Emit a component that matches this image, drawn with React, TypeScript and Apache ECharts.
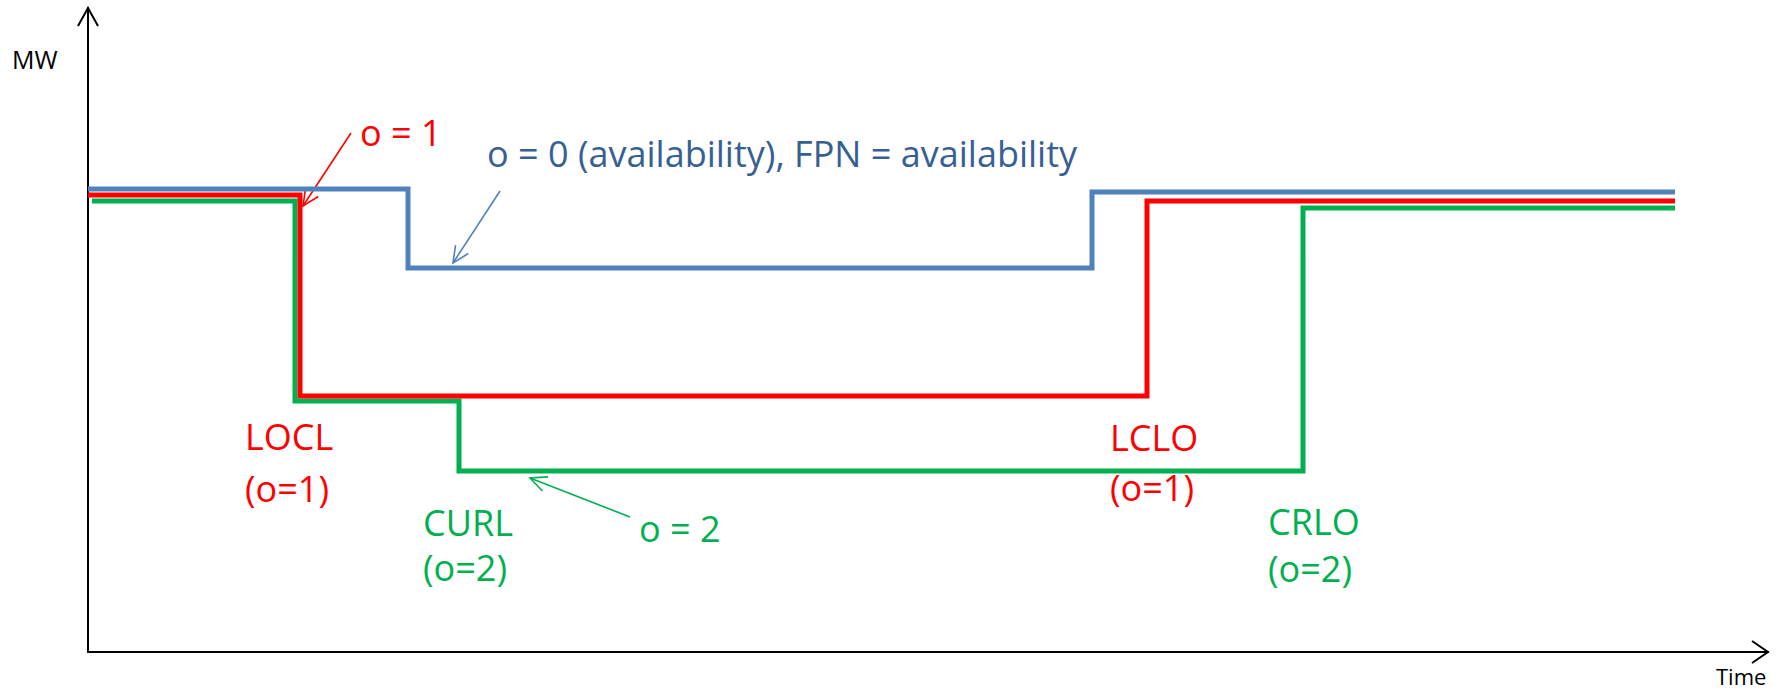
import React, { useEffect, useRef } from "react";
import * as echarts from "echarts";

// Time axis (arbitrary units) and MW values
const timeBlue = [0, 32, 32, 100.4, 100.4, 158.7];
const mwBlue = [46.3, 46.3, 38.4, 38.4, 46.0, 46.0];

const timeRed = [0, 21.2, 21.2, 105.9, 105.9, 158.7];
const mwRed = [45.7, 45.7, 25.6, 25.6, 45.1, 45.1];

const timeGreen = [0.4, 20.7, 20.7, 37.1, 37.1, 121.5, 121.5, 158.7];
const mwGreen = [45.1, 45.1, 25.1, 25.1, 18.1, 18.1, 44.4, 44.4];

const xMax = 168;
const yMax = 64.4;

const BLUE = "#4F81BD";
const RED = "#FF0000";
const GREEN = "#00B050";
const BLUE_TEXT = "#376092";
const FONT = '"Open Sans", sans-serif';

const zip = (xs: number[], ys: number[]) => xs.map((x, i) => [x, ys[i]]);

function arrow(x1: number, y1: number, x2: number, y2: number, color: string) {
  const dx = x1 - x2;
  const dy = y1 - y2;
  const len = Math.hypot(dx, dy);
  const ux = dx / len;
  const uy = dy / len;
  const L = 18;
  const a = (25 * Math.PI) / 180;
  const c = Math.cos(a);
  const s = Math.sin(a);
  const w1 = [x2 + L * (ux * c - uy * s), y2 + L * (ux * s + uy * c)];
  const w2 = [x2 + L * (ux * c + uy * s), y2 + L * (-ux * s + uy * c)];
  return [
    { type: "line", shape: { x1, y1, x2, y2 }, style: { stroke: color, lineWidth: 1.6 }, silent: true },
    { type: "polyline", shape: { points: [w1, [x2, y2], w2] }, style: { stroke: color, lineWidth: 1.6, fill: null }, silent: true },
  ];
}

function label(text: string, x: number, y: number, color: string, size = 36) {
  return {
    type: "text",
    silent: true,
    style: {
      text,
      x,
      y,
      fill: color,
      fontSize: size,
      fontFamily: FONT,
      textAlign: "left",
      textVerticalAlign: "middle",
      align: "left",
      verticalAlign: "middle",
    },
  };
}

export default function App() {
  const ref = useRef<HTMLDivElement>(null);
  useEffect(() => {
    if (!ref.current) return;
    const chart = echarts.init(ref.current, undefined, { renderer: "svg" });
    const lineSeries = (name: string, data: number[][], color: string) => ({
      name,
      type: "line",
      data,
      showSymbol: false,
      symbol: "none",
      lineStyle: { color, width: 5, cap: "butt", join: "miter" },
      itemStyle: { color },
      silent: true,
    });
    chart.setOption({
      animation: false,
      backgroundColor: "#ffffff",
      grid: { left: 88, top: 8, right: 18, bottom: 40, containLabel: false },
      xAxis: {
        type: "value",
        min: 0,
        max: xMax,
        axisLine: { show: true, onZero: false, lineStyle: { color: "#000", width: 2 } },
        axisTick: { show: false },
        axisLabel: { show: false },
        splitLine: { show: false },
      },
      yAxis: {
        type: "value",
        min: 0,
        max: yMax,
        axisLine: { show: true, onZero: false, lineStyle: { color: "#000", width: 2 } },
        axisTick: { show: false },
        axisLabel: { show: false },
        splitLine: { show: false },
      },
      series: [
        lineSeries("o = 0 (availability)", zip(timeBlue, mwBlue), BLUE),
        lineSeries("o = 2", zip(timeGreen, mwGreen), GREEN),
        lineSeries("o = 1", zip(timeRed, mwRed), RED),
      ],
      graphic: [
        { type: "polyline", shape: { points: [[78, 26], [88, 8], [98, 26]] }, style: { stroke: "#000", lineWidth: 2, fill: null }, silent: true },
        { type: "polyline", shape: { points: [[1752, 641], [1768, 652], [1752, 663]] }, style: { stroke: "#000", lineWidth: 2, fill: null }, silent: true },
        label("MW", 12, 59, "#000", 25),
        label("Time", 1716, 676, "#000", 22),
        label("o = 1", 360, 132, RED),
        label("o = 0 (availability), FPN = availability", 487, 153, BLUE_TEXT),
        label("LOCL", 245, 436, RED),
        label("(o=1)", 245, 488, RED),
        label("CURL", 423, 522, GREEN),
        label("(o=2)", 423, 567, GREEN),
        label("o = 2", 639, 528, GREEN),
        label("LCLO", 1110, 437, RED),
        label("(o=1)", 1110, 487, RED),
        label("CRLO", 1268, 521, GREEN),
        label("(o=2)", 1268, 568, GREEN),
        ...arrow(351, 133, 303, 206, RED),
        ...arrow(500, 191, 453, 263, BLUE),
        ...arrow(630, 517, 530, 478, GREEN),
      ],
    });
    return () => chart.dispose();
  }, []);
  return (
    <div
      ref={ref}
      style={{ position: "fixed", left: 0, top: 0, width: 1786, height: 692, background: "#fff" }}
    />
  );
}
